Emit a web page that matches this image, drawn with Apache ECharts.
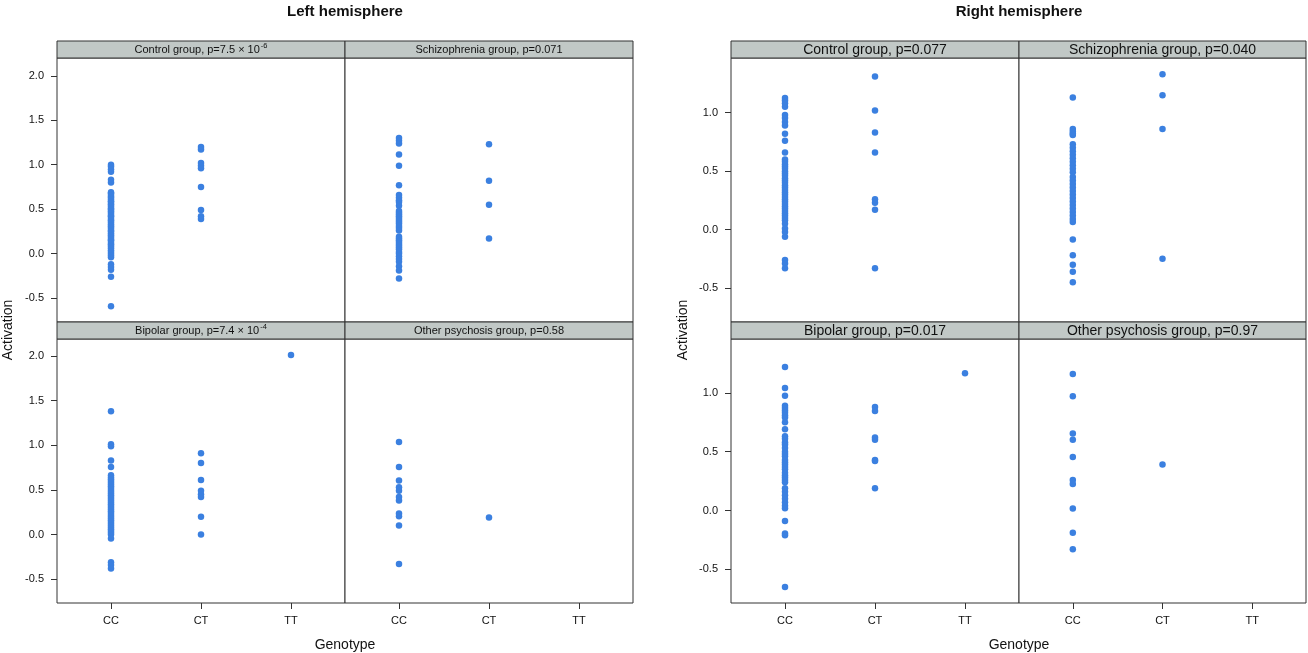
<!DOCTYPE html>
<html>
<head>
<meta charset="utf-8">
<script src="https://cdn.jsdelivr.net/npm/echarts@6/dist/echarts.min.js"></script>
<style>
  html, body { margin: 0; padding: 0; background: #fff; }
  #chart { width: 1308px; height: 653px; }
</style>
</head>
<body>
<div id="chart"></div>
<script>
// ---------- DATA ----------
const genotypes = ['CC', 'CT', 'TT'];
const yTicksLeft = [-0.5, 0, 0.5, 1, 1.5, 2];
const yTicksRight = [-0.5, 0, 0.5, 1];

// Left hemisphere
const L_control_CC = [1.00, 0.98, 0.95, 0.92, 0.83, 0.80, 0.69, 0.68, 0.66, 0.64, 0.63, 0.61, 0.59, 0.58, 0.56, 0.55, 0.53, 0.51, 0.50, 0.48, 0.47, 0.45, 0.43, 0.42, 0.40, 0.38, 0.37, 0.35, 0.33, 0.31, 0.30, 0.28, 0.26, 0.25, 0.23, 0.21, 0.20, 0.18, 0.16, 0.15, 0.13, 0.11, 0.10, 0.08, 0.06, 0.04, 0.02, 0.00, -0.02, -0.04, -0.12, -0.15, -0.18, -0.26, -0.59];
const L_control_CT = [1.20, 1.17, 1.02, 0.99, 0.96, 0.75, 0.49, 0.42, 0.39];
const L_control_TT = [];
const L_schiz_CC = [1.30, 1.27, 1.24, 1.115, 0.99, 0.77, 0.66, 0.63, 0.60, 0.58, 0.54, 0.48, 0.46, 0.44, 0.42, 0.40, 0.38, 0.36, 0.34, 0.31, 0.29, 0.26, 0.19, 0.17, 0.15, 0.13, 0.11, 0.09, 0.07, 0.05, 0.02, 0.00, -0.03, -0.06, -0.09, -0.14, -0.19, -0.28];
const L_schiz_CT = [1.23, 0.82, 0.55, 0.17];
const L_schiz_TT = [];
const L_bipolar_CC = [1.38, 1.01, 0.99, 0.83, 0.755, 0.665, 0.64, 0.62, 0.60, 0.58, 0.56, 0.54, 0.52, 0.50, 0.48, 0.46, 0.44, 0.42, 0.40, 0.38, 0.36, 0.34, 0.32, 0.30, 0.28, 0.26, 0.24, 0.22, 0.20, 0.18, 0.16, 0.14, 0.12, 0.10, 0.08, 0.06, 0.04, 0.02, 0.00, -0.045, -0.31, -0.34, -0.38];
const L_bipolar_CT = [0.91, 0.80, 0.61, 0.49, 0.45, 0.42, 0.20, 0.00];
const L_bipolar_TT = [2.01];
const L_other_CC = [1.035, 0.755, 0.605, 0.53, 0.49, 0.42, 0.38, 0.235, 0.205, 0.10, -0.33];
const L_other_CT = [0.19];
const L_other_TT = [];

// Right hemisphere
const R_control_CC = [1.125, 1.105, 1.08, 1.05, 0.98, 0.955, 0.92, 0.89, 0.82, 0.76, 0.66, 0.60, 0.58, 0.56, 0.54, 0.52, 0.50, 0.48, 0.46, 0.44, 0.42, 0.40, 0.38, 0.36, 0.34, 0.32, 0.30, 0.28, 0.26, 0.24, 0.22, 0.20, 0.18, 0.16, 0.14, 0.12, 0.10, 0.08, 0.05, 0.01, -0.02, -0.06, -0.26, -0.29, -0.33];
const R_control_CT = [1.31, 1.02, 0.83, 0.66, 0.26, 0.23, 0.17, -0.33];
const R_control_TT = [];
const R_schiz_CC = [1.13, 0.86, 0.84, 0.82, 0.81, 0.73, 0.70, 0.67, 0.64, 0.61, 0.58, 0.55, 0.52, 0.49, 0.45, 0.42, 0.39, 0.36, 0.33, 0.30, 0.27, 0.24, 0.21, 0.18, 0.15, 0.12, 0.09, 0.065, -0.085, -0.22, -0.30, -0.36, -0.45];
const R_schiz_CT = [1.33, 1.15, 0.86, -0.25];
const R_schiz_TT = [];
const R_bipolar_CC = [1.22, 1.04, 0.975, 0.89, 0.87, 0.85, 0.83, 0.81, 0.79, 0.75, 0.69, 0.63, 0.61, 0.58, 0.56, 0.53, 0.50, 0.48, 0.46, 0.43, 0.41, 0.39, 0.37, 0.35, 0.32, 0.30, 0.28, 0.26, 0.24, 0.19, 0.16, 0.13, 0.10, 0.07, 0.04, 0.02, -0.09, -0.195, -0.21, -0.65];
const R_bipolar_CT = [0.88, 0.845, 0.62, 0.60, 0.43, 0.42, 0.19];
const R_bipolar_TT = [1.165];
const R_other_CC = [1.16, 0.97, 0.655, 0.60, 0.455, 0.26, 0.225, 0.017, -0.19, -0.33];
const R_other_CT = [0.39];
const R_other_TT = [];

// Panel strip labels: [main text, superscript]
const stripLabels = [
  ['Control group, p=7.5 \u00d7 10', '-6'],
  ['Schizophrenia group, p=0.071', ''],
  ['Bipolar group, p=7.4 \u00d7 10', '-4'],
  ['Other psychosis group, p=0.58', ''],
  ['Control group, p=0.077', ''],
  ['Schizophrenia group, p=0.040', ''],
  ['Bipolar group, p=0.017', ''],
  ['Other psychosis group, p=0.97', '']
];

const panelData = [
  [L_control_CC, L_control_CT, L_control_TT],
  [L_schiz_CC, L_schiz_CT, L_schiz_TT],
  [L_bipolar_CC, L_bipolar_CT, L_bipolar_TT],
  [L_other_CC, L_other_CT, L_other_TT],
  [R_control_CC, R_control_CT, R_control_TT],
  [R_schiz_CC, R_schiz_CT, R_schiz_TT],
  [R_bipolar_CC, R_bipolar_CT, R_bipolar_TT],
  [R_other_CC, R_other_CT, R_other_TT]
];

// ---------- LAYOUT ----------
const FONT = "'Liberation Sans', Arial, Helvetica, sans-serif";
const DOT = '#3b80e0';
const BORDER = '#333';
const STRIP_FILL = '#c1c8c6';
const STRIP_H = 17;
const PW = 288, PH = 264;
const rowTop = [58, 339];
const colLeft = [57, 345, 731, 1019];
// panel -> [colIdx, rowIdx]
const panelPos = [[0,0],[1,0],[0,1],[1,1],[2,0],[3,0],[2,1],[3,1]];
const yRange = {
  left: [[-0.768, 2.2], [-0.767, 2.19]],
  right: [[-0.79, 1.468], [-0.786, 1.457]]
};

const grids = [], xAxes = [], yAxes = [], series = [], graphics = [];

panelPos.forEach(([c, r], i) => {
  const isRight = i >= 4;
  const w = (c === 3) ? 287 : PW;
  grids.push({
    left: colLeft[c], top: rowTop[r], width: w, height: PH,
    show: true, borderColor: BORDER, borderWidth: 1, backgroundColor: '#fff',
    containLabel: false
  });
  const bottomRow = r === 1;
  xAxes.push({
    type: 'value', gridIndex: i, min: 0.4, max: 3.6, position: 'bottom',
    axisLine: { show: false, onZero: false },
    splitLine: { show: false },
    axisTick: { show: bottomRow, customValues: [1, 2, 3], length: 6, lineStyle: { color: BORDER } },
    axisLabel: {
      show: bottomRow, customValues: [1, 2, 3], margin: 12,
      formatter: v => genotypes[Math.round(v) - 1],
      fontFamily: FONT, fontSize: 11, color: '#111'
    }
  });
  const leftCol = (c === 0 || c === 2);
  const rng = isRight ? yRange.right[r] : yRange.left[r];
  const ticks = isRight ? yTicksRight : yTicksLeft;
  yAxes.push({
    type: 'value', gridIndex: i, min: rng[0], max: rng[1], position: 'left',
    axisLine: { show: false, onZero: false },
    splitLine: { show: false },
    axisTick: { show: leftCol, customValues: ticks, length: 6, lineStyle: { color: BORDER } },
    axisLabel: {
      show: leftCol, customValues: ticks, margin: 13,
      formatter: v => v.toFixed(1),
      fontFamily: FONT, fontSize: 11, color: '#111'
    }
  });
  const data = [];
  panelData[i].forEach((vals, g) => vals.forEach(v => data.push([g + 1, v])));
  series.push({
    type: 'scatter', xAxisIndex: i, yAxisIndex: i, data: data,
    symbol: 'circle', symbolSize: 6.5,
    itemStyle: { color: DOT, opacity: 1 },
    silent: true, animation: false
  });
  // strip
  graphics.push({
    type: 'rect', silent: true,
    shape: { x: colLeft[c], y: rowTop[r] - STRIP_H, width: w, height: STRIP_H },
    style: { fill: STRIP_FILL, stroke: BORDER, lineWidth: 1 }
  });
  const [main, sup] = stripLabels[i];
  const fs = isRight ? 14 : 11;
  graphics.push({
    type: 'text', silent: true,
    x: colLeft[c] + w / 2, y: rowTop[r] - STRIP_H / 2 + 0.5,
    style: {
      text: sup ? '{n|' + main + '}{s|' + sup + '}' : '{n|' + main + '}',
      align: 'center', verticalAlign: 'middle',
      rich: {
        n: { fontFamily: FONT, fontSize: fs, lineHeight: 16, fill: '#111', verticalAlign: 'middle' },
        s: { fontFamily: FONT, fontSize: 7.5, lineHeight: 7, fill: '#111', verticalAlign: 'top', padding: [0, 0, 0, 1] }
      }
    }
  });
});

// titles
graphics.push({
  type: 'text', silent: true, x: 345, y: 12,
  style: { text: 'Left hemisphere', font: "bold 15px " + FONT, fill: '#111', align: 'center', verticalAlign: 'middle' }
});
graphics.push({
  type: 'text', silent: true, x: 1019, y: 12,
  style: { text: 'Right hemisphere', font: "bold 15px " + FONT, fill: '#111', align: 'center', verticalAlign: 'middle' }
});
// axis titles
[[345, 'Genotype'], [1019, 'Genotype']].forEach(([x, t]) => graphics.push({
  type: 'text', silent: true, x: x, y: 645,
  style: { text: t, font: "14px " + FONT, fill: '#111', align: 'center', verticalAlign: 'middle' }
}));
[[8, 330], [683, 330]].forEach(([x, y]) => graphics.push({
  type: 'text', silent: true, x: x, y: y, rotation: Math.PI / 2,
  style: { text: 'Activation', font: "14px " + FONT, fill: '#111', align: 'center', verticalAlign: 'middle' }
}));

const chart = echarts.init(document.getElementById('chart'), null, { renderer: 'canvas' });
chart.setOption({
  backgroundColor: '#fff',
  animation: false,
  grid: grids,
  xAxis: xAxes,
  yAxis: yAxes,
  series: series,
  graphic: { elements: graphics }
});
</script>
</body>
</html>
